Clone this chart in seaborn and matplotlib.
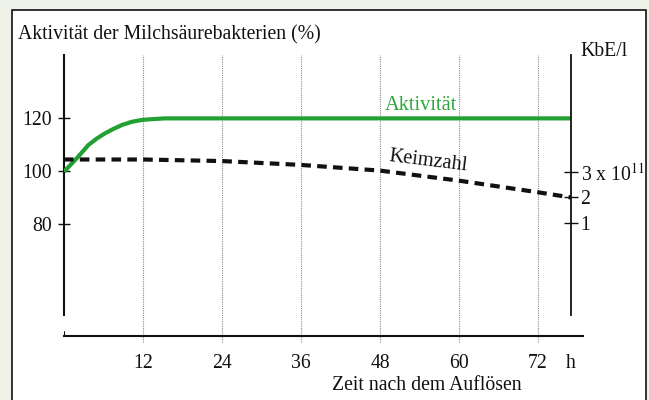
import matplotlib
matplotlib.use('Agg')
import matplotlib.pyplot as plt
from matplotlib.patches import Rectangle
import seaborn as sns

# Aktivität der Milchsäurebakterien (%) - green curve
act_hours = [0, 1.9, 3.7, 5.0, 6.2, 7.5, 8.8, 10.3, 11.8, 13.3, 15.3, 77]
activity = [99.8, 104.8, 109.9, 112.4, 114.3, 116.0, 117.5, 118.7, 119.4, 119.7, 120, 120]

# Keimzahl (x 10^11 KbE/l) - dashed curve
germ_hours = [0, 12, 24, 36, 48, 60, 72, 77]
germ_count = [3.47, 3.47, 3.41, 3.26, 3.04, 2.65, 2.20, 2.0]

x_ticks = [12, 24, 36, 48, 60, 72, 77]
x_labels = ['12', '24', '36', '48', '60', '72', 'h']
grid_hours = [12, 24, 36, 48, 60, 72]
left_ticks = [80, 100, 120]
right_ticks = [1, 2, 3]
right_labels = ['1', '2', '3 x 10$^{11}$']

GREEN = '#23a033'
FS = 14.2

sns.set_style('white')
plt.rcParams['font.family'] = ['Liberation Serif', 'DejaVu Serif']
plt.rcParams['mathtext.fontset'] = 'stix'

W, H = 649, 400
fig = plt.figure(figsize=(W / 100, H / 100), dpi=100, facecolor='#eff2e9')

# white framed panel
fig.patches.append(Rectangle((11.7 / W, -0.02), (646 - 11.7) / W, 1 - 10 / H + 0.02,
                             transform=fig.transFigure, facecolor='white',
                             edgecolor='#111111', lw=1.2, zorder=-5))

ax = fig.add_axes([64 / W, 64 / H, (582.7 - 64) / W, (336 - 55) / H])
ax.set_facecolor('none')
ax2 = ax.twinx()
ax2.set_facecolor('none')

ax.set_xlim(0, 78.8)
ax.set_ylim(37.6, 144.0)
ax2.set_ylim(-3.37, 7.52)

# dotted guide lines
ax.vlines(grid_hours, -0.02, 1, transform=ax.get_xaxis_transform(), colors='#8c8c8c',
          linestyles=(0, (1, 1)), lw=0.8, clip_on=False, zorder=1)

sns.lineplot(x=act_hours, y=activity, ax=ax, color=GREEN, lw=3.0, zorder=3,
             solid_joinstyle='round', solid_capstyle='butt')
sns.lineplot(x=germ_hours, y=germ_count, ax=ax2, color='#111111', lw=3.0,
             linestyle=(0, (2.3, 1.5)), zorder=3)

for a in (ax, ax2):
    a.set_xlabel('')
    a.set_ylabel('')

# spines
ax.spines['top'].set_visible(False)
ax.spines['right'].set_visible(False)
ax.spines['left'].set_bounds(45.5, 144.0)
for s in ('left', 'bottom'):
    ax.spines[s].set_color('#111111')
    ax.spines[s].set_linewidth(1.5)
ax.axvline(0, ymin=0, ymax=0.016, color='#111111', lw=1.5)

for s in ('left', 'top', 'bottom'):
    ax2.spines[s].set_visible(False)
ax2.spines['right'].set_position(('data', 77))
ax2.spines['right'].set_bounds(-2.55, 7.52)
ax2.spines['right'].set_color('#111111')
ax2.spines['right'].set_linewidth(1.3)

ax.set_xticks(x_ticks)
ax.set_xticklabels(x_labels)
ax.set_yticks(left_ticks)
ax2.set_yticks(right_ticks)
ax2.set_yticklabels(right_labels)

ax.tick_params(axis='x', direction='inout', length=12, width=1.2, pad=7,
               labelsize=FS, colors='#111111')
ax.tick_params(axis='y', direction='inout', length=9, width=1, pad=4,
               labelsize=FS, colors='#111111')
ax2.tick_params(axis='y', direction='inout', length=10, width=1, pad=2,
                labelsize=FS, colors='#111111')

# texts
fig.text(18 / W, 1 - 39.5 / H, 'Aktivität der Milchsäurebakterien (%)', fontsize=FS,
         color='#111111', va='baseline', ha='left')
fig.text(580 / W, 1 - 56 / H, 'KbE/l', fontsize=FS, color='#111111', va='baseline')
fig.text(332 / W, 1 - 390 / H, 'Zeit nach dem Auflösen', fontsize=FS,
         color='#111111', va='baseline')
ax.text(48.8, 123.1, 'Aktivität', fontsize=FS + 0.5, color='#2ea83d', va='baseline', ha='left')
ax2.text(55.3, 3.38, 'Keimzahl', fontsize=FS + 0.5, color='#111111', va='center',
         ha='center', rotation=-7, rotation_mode='anchor')

fig.savefig('out.png', dpi=100, facecolor=fig.get_facecolor())
